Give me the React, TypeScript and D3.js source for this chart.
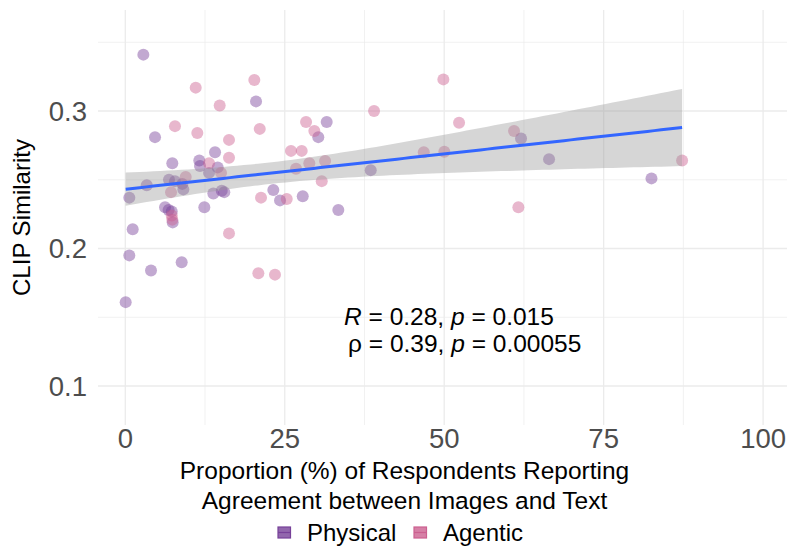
import React from "react";
import * as d3 from "d3";

const physicalX = [2.83, 20.5, 4.66, 14.07, 7.37, 11.6, 11.71, 14.49, 13.13, 3.36, 0.63, 6.85, 7.79, 8.94, 9.1, 13.8, 15.12, 15.52, 23.21, 12.39, 6.23, 6.79, 7.28, 7.43, 1.16, 0.63, 4.03, 8.84, 0.06, 31.58, 30.26, 38.48, 24.26, 27.82, 33.4, 62.05, 66.44, 82.5];
const physicalY = [0.341, 0.307, 0.281, 0.27, 0.262, 0.264, 0.26, 0.259, 0.255, 0.246, 0.237, 0.25, 0.249, 0.247, 0.243, 0.24, 0.242, 0.241, 0.2425, 0.23, 0.23, 0.228, 0.227, 0.219, 0.214, 0.195, 0.184, 0.19, 0.161, 0.292, 0.281, 0.257, 0.235, 0.238, 0.228, 0.28, 0.265, 0.251];
const agenticX = [11.04, 20.23, 14.8, 7.79, 11.29, 16.26, 21.08, 16.26, 13.13, 15.01, 9.47, 7.17, 21.28, 7.28, 7.37, 16.26, 20.86, 23.47, 39.0, 28.34, 29.64, 25.98, 27.66, 28.85, 31.32, 26.77, 30.8, 46.8, 25.31, 49.87, 52.33, 60.95, 50.02, 61.63, 87.3];
const agenticY = [0.317, 0.3225, 0.304, 0.289, 0.284, 0.279, 0.287, 0.266, 0.262, 0.255, 0.252, 0.241, 0.237, 0.224, 0.221, 0.211, 0.182, 0.181, 0.3, 0.292, 0.2855, 0.271, 0.271, 0.262, 0.2636, 0.258, 0.249, 0.27, 0.236, 0.323, 0.2915, 0.2855, 0.2704, 0.23, 0.264];

const groups = ["Physical", "Agentic"];
const groupColors = ["#774199", "#CC6090"];
const xMajor = [0, 25, 50, 75, 100];
const xMinor = [12.5, 37.5, 62.5, 87.5];
const yMajor = [0.1, 0.2, 0.3];
const yMinor = [0.15, 0.25, 0.35];
const statLines = [
  { sym: "R", italicSym: true, r: "0.28", p: "0.015" },
  { sym: "\u03C1", italicSym: false, r: "0.39", p: "0.00055" },
];

const FONT = "'Liberation Sans', Arial, Helvetica, sans-serif";

export default function App() {
  const W = 787, H = 546;
  const panel = { left: 98, right: 787, top: 10, bottom: 425 };
  const x = d3.scaleLinear().domain([0, 100]).range([125.3, 763.1]);
  const y = d3.scaleLinear().domain([0.1, 0.35]).range([386, 42.25]);

  const allX = [...physicalX, ...agenticX];
  const allY = [...physicalY, ...agenticY];
  const n = allX.length;
  const mx = d3.mean(allX)!;
  const my = d3.mean(allY)!;
  let sxx = 0, sxy = 0;
  for (let i = 0; i < n; i++) {
    sxx += (allX[i] - mx) ** 2;
    sxy += (allX[i] - mx) * (allY[i] - my);
  }
  const b = sxy / sxx;
  const a = my - b * mx;
  let sse = 0;
  for (let i = 0; i < n; i++) sse += (allY[i] - a - b * allX[i]) ** 2;
  const s = Math.sqrt(sse / (n - 2));
  const tq = 1.993;
  const [x0, x1] = d3.extent(allX) as [number, number];
  const grid = d3.range(0, 81).map((i) => x0 + ((x1 - x0) * i) / 80);
  const fitPts = grid.map((xv) => {
    const yh = a + b * xv;
    const se = s * Math.sqrt(1 / n + (xv - mx) ** 2 / sxx);
    return { xv, yh, lo: yh - tq * se, hi: yh + tq * se };
  });
  const area = d3
    .area<any>()
    .x((d) => x(d.xv))
    .y0((d) => y(d.lo))
    .y1((d) => y(d.hi));
  const line = d3
    .line<any>()
    .x((d) => x(d.xv))
    .y((d) => y(d.yh));

  const series = [
    { xs: physicalX, ys: physicalY, color: groupColors[0] },
    { xs: agenticX, ys: agenticY, color: groupColors[1] },
  ];

  return (
    <svg width={W} height={H} style={{ position: "absolute", left: 0, top: 0, background: "#fff" }} fontFamily={FONT}>
      <rect x={0} y={0} width={W} height={H} fill="#fff" />
      {/* grid */}
      {xMinor.map((v) => (
        <line key={"xm" + v} x1={x(v)} x2={x(v)} y1={panel.top} y2={panel.bottom} stroke="#EBEBEB" strokeWidth={0.7} />
      ))}
      {yMinor.map((v) => (
        <line key={"ym" + v} x1={panel.left} x2={panel.right} y1={y(v)} y2={y(v)} stroke="#EBEBEB" strokeWidth={0.7} />
      ))}
      {xMajor.map((v) => (
        <line key={"xM" + v} x1={x(v)} x2={x(v)} y1={panel.top} y2={panel.bottom} stroke="#EBEBEB" strokeWidth={1.3} />
      ))}
      {yMajor.map((v) => (
        <line key={"yM" + v} x1={panel.left} x2={panel.right} y1={y(v)} y2={y(v)} stroke="#EBEBEB" strokeWidth={1.3} />
      ))}
      {/* points */}
      {series.map((sr, si) =>
        sr.xs.map((xv, i) => (
          <circle key={si + "-" + i} cx={x(xv)} cy={y(sr.ys[i])} r={6} fill={sr.color} fillOpacity={0.45} />
        ))
      )}
      {/* smooth */}
      <path d={area(fitPts)!} fill="#999999" fillOpacity={0.4} />
      <path d={line(fitPts)!} fill="none" stroke="#3366FF" strokeWidth={3} />
      {/* annotation */}
      {statLines.map((l, i) => (
        <text key={"st" + i} x={x(34.3) + (i === 0 ? 0 : 4)} y={y(0.1) - 61 + i * 27} fontSize={24.5} fill="#000">
          <tspan fontStyle={l.italicSym ? "italic" : "normal"}>{l.sym}</tspan>
          <tspan>{" = " + l.r + ", "}</tspan>
          <tspan fontStyle="italic">p</tspan>
          <tspan>{" = " + l.p}</tspan>
        </text>
      ))}
      {/* axis ticks */}
      {yMajor.map((v) => (
        <text key={"yt" + v} x={87} y={y(v)} dy="0.36em" textAnchor="end" fontSize={27.5} fill="#4D4D4D">
          {v.toFixed(1)}
        </text>
      ))}
      {xMajor.map((v) => (
        <text key={"xt" + v} x={x(v)} y={438} dy="0.36em" textAnchor="middle" fontSize={27.5} fill="#4D4D4D">
          {v}
        </text>
      ))}
      {/* axis titles */}
      <text transform={`translate(30,${(panel.top + panel.bottom) / 2}) rotate(-90)`} textAnchor="middle" fontSize={24} fill="#000">
        CLIP Similarity
      </text>
      <text x={(panel.left + panel.right) / 2 - 38} y={479} textAnchor="middle" fontSize={24.5} fill="#000">
        Proportion (%) of Respondents Reporting
      </text>
      <text x={(panel.left + panel.right) / 2 - 38} y={509} textAnchor="middle" fontSize={24.5} fill="#000">
        Agreement between Images and Text
      </text>
      {/* legend */}
      {groups.map((g, i) => {
        const kx = i === 0 ? 278 : 414;
        const tx = i === 0 ? 307 : 443;
        return (
          <g key={g}>
            <rect x={kx} y={527} width={12.5} height={11} fill={groupColors[i]} fillOpacity={0.8} stroke={groupColors[i]} strokeWidth={1.2} />
            <line x1={kx} x2={kx + 12.5} y1={532.5} y2={532.5} stroke={groupColors[i]} strokeWidth={1.2} />
            <text x={tx} y={541} fontSize={24} fill="#000">
              {g}
            </text>
          </g>
        );
      })}
    </svg>
  );
}
